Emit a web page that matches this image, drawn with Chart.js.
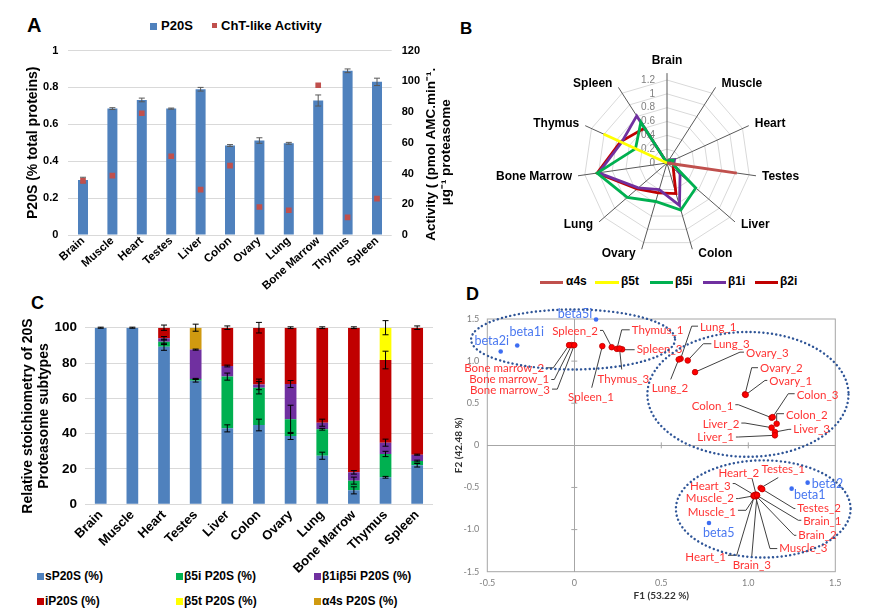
<!DOCTYPE html>
<html><head><meta charset="utf-8">
<script src="https://cdn.jsdelivr.net/npm/chart.js@4.4.1/dist/chart.umd.min.js"></script>
<style>
html,body{margin:0;padding:0;background:#fff;}
body{width:876px;height:614px;position:relative;overflow:hidden;font-family:"Liberation Sans",Arial,sans-serif;}
canvas{position:absolute;}
.t{position:absolute;white-space:nowrap;font-weight:bold;color:#000;}
.sw{position:absolute;}
</style></head><body>
<!-- panel letters -->
<div class="t" style="left:27px;top:13px;font-size:20px;line-height:24px;">A</div>
<div class="t" style="left:460px;top:19px;font-size:17px;line-height:20px;">B</div>
<div class="t" style="left:31px;top:292px;font-size:18px;line-height:22px;">C</div>
<div class="t" style="left:466px;top:283px;font-size:18px;line-height:22px;">D</div>

<!-- legend A -->
<div class="sw" style="left:150px;top:23px;width:7px;height:7px;background:#4F81BD;"></div>
<div class="t" style="left:161px;top:17.5px;font-size:13px;line-height:16px;">P20S</div>
<div class="sw" style="left:212px;top:23px;width:5px;height:5px;background:#C0504D;"></div>
<div class="t" style="left:221px;top:17.5px;font-size:13px;line-height:16px;">ChT-like Activity</div>

<!-- legend B -->
<div class="sw" style="left:540px;top:280.5px;width:23px;height:3px;background:#C0504D;"></div>
<div class="t" style="left:566px;top:274px;font-size:12px;line-height:15px;">α4s</div>
<div class="sw" style="left:595px;top:280.5px;width:24px;height:3px;background:#FFFF00;"></div>
<div class="t" style="left:621px;top:274px;font-size:12px;line-height:15px;">β5t</div>
<div class="sw" style="left:650px;top:280.5px;width:23px;height:3px;background:#00B050;"></div>
<div class="t" style="left:675px;top:274px;font-size:12px;line-height:15px;">β5i</div>
<div class="sw" style="left:703px;top:280.5px;width:23px;height:3px;background:#7030A0;"></div>
<div class="t" style="left:728px;top:274px;font-size:12px;line-height:15px;">β1i</div>
<div class="sw" style="left:755px;top:280.5px;width:23px;height:3px;background:#C00000;"></div>
<div class="t" style="left:780px;top:274px;font-size:12px;line-height:15px;">β2i</div>

<!-- legend C -->
<div class="sw" style="left:37px;top:573px;width:7px;height:7px;background:#4F81BD;"></div>
<div class="t" style="left:45px;top:569px;font-size:12px;line-height:15px;">sP20S (%)</div>
<div class="sw" style="left:176px;top:573px;width:7px;height:7px;background:#00B050;"></div>
<div class="t" style="left:184px;top:569px;font-size:12px;line-height:15px;">β5i P20S (%)</div>
<div class="sw" style="left:314px;top:573px;width:7px;height:7px;background:#7030A0;"></div>
<div class="t" style="left:322px;top:569px;font-size:12px;line-height:15px;">β1iβ5i P20S (%)</div>
<div class="sw" style="left:37px;top:598px;width:7px;height:7px;background:#C00000;"></div>
<div class="t" style="left:45px;top:594px;font-size:12px;line-height:15px;">iP20S (%)</div>
<div class="sw" style="left:176px;top:598px;width:7px;height:7px;background:#FFFF00;"></div>
<div class="t" style="left:184px;top:594px;font-size:12px;line-height:15px;">β5t P20S (%)</div>
<div class="sw" style="left:314px;top:598px;width:7px;height:7px;background:#D09A10;"></div>
<div class="t" style="left:322px;top:594px;font-size:12px;line-height:15px;">α4s P20S (%)</div>

<canvas id="cA" width="460" height="300" style="left:0;top:0;"></canvas>
<canvas id="cB" width="436" height="240" style="left:440px;top:35px;"></canvas>
<canvas id="cC" width="450" height="300" style="left:0;top:285px;"></canvas>
<canvas id="cD" width="436" height="324" style="left:440px;top:290px;"></canvas>

<script>
// ---------- DATA ----------
const tissues = ['Brain','Muscle','Heart','Testes','Liver','Colon','Ovary','Lung','Bone Marrow','Thymus','Spleen'];

// Panel A
const p20s        = [0.298,0.685,0.732,0.685,0.790,0.485,0.512,0.497,0.729,0.890,0.830];
const p20sErr     = [0.015,0.005,0.010,0.003,0.010,0.005,0.015,0.005,0.030,0.010,0.020];
const chtActivity = [35.2,38.6,79.2,51.2,29.5,45.1,18.2,16.1,97.4,11.5,23.7];
const ticksA = [0,0.2,0.4,0.6,0.8,1];

// Panel B (radar)
const radarA4s  = [0,0,0,1.02,0,0,0,0,0,0,0];
const radarB5t  = [0,0,0,0,0,0,0,0,0,1.01,0];
const radarB5i  = [0,0.05,0.10,0.08,0.55,0.71,0.58,0.76,1.02,0.50,0.70];
const radarB1i  = [0,0.05,0.12,0.10,0.25,0.64,0.40,0.55,1.00,0.72,0.81];
const radarB2i  = [0,0.05,0.10,0.10,0.12,0.46,0.45,0.57,1.02,0.74,0.60];

// Panel C (stacked %)
const sP20S    = [100,100,89.2,70,43,44.9,38.7,27.5,7.9,15.3,22.1];
const b5iP20S  = [0,0,2.8,1,29.3,21.1,9.4,15,5.5,13.2,2.4];
const b1ib5i   = [0,0,2,16.6,6,1.9,20,3.7,4.7,6.4,3.6];
const iP20S    = [0,0,6,0,21.7,32.1,31.9,53.8,81.9,46.8,71.9];
const b5tP20S  = [0,0,0,0,0,0,0,0,0,18.3,0];
const a4sP20S  = [0,0,0,12.4,0,0,0,0,0,0,0];
const errSP20S = [0.3,0.3,2,0.8,2,3.3,2,2,2,0.5,1];
const errB5i   = [0,0,1.5,0.3,2,3.5,8,0.5,2,1.5,0.5];
const errB1iB5i= [0,0,1,0.3,0.5,3,2,2,1,2,0.3];
const errIP20S = [0,0,1.5,0,1,3,0.5,0.5,0.5,5,1];
const errB5t   = [0,0,0,0,0,0,0,0,0,4,0];
const errA4s   = [0,0,0,2,0,0,0,0,0,0,0];

// Panel D (PCA biplot)
const sampleNames = ['Bone marrow_1','Bone marrow_2','Bone marrow_3','Spleen_1','Spleen_2','Thymus_1','Spleen_3','Thymus_3',
  'Lung_1','Lung_2','Lung_3','Ovary_3','Ovary_2','Ovary_1','Colon_1','Colon_3','Colon_2','Liver_2','Liver_3','Liver_1',
  'Testes_1','Testes_2','Heart_2','Heart_3','Muscle_2','Muscle_1','Brain_1','Brain_2','Muscle_3','Heart_1','Brain_3'];
const sampleF1 = [-0.015,-0.03,0.0,0.161,0.215,0.245,0.275,0.26,
  0.611,0.60,0.652,0.694,0.981,0.985,1.134,1.14,1.163,1.134,1.153,1.153,
  1.071,1.08,1.045,1.035,1.03,1.04,1.05,1.045,1.04,1.035,1.05];
const sampleF2 = [1.19,1.19,1.19,1.178,1.165,1.145,1.14,1.15,
  1.028,1.02,1.008,0.869,0.605,0.60,0.328,0.335,0.257,0.21,0.158,0.119,
  -0.506,-0.52,-0.585,-0.59,-0.60,-0.605,-0.595,-0.60,-0.595,-0.60,-0.59];
const varNames = ['beta5i','beta1i','beta2i','beta2','beta1','beta5'];
const varF1 = [0.125,-0.328,-0.423,1.341,1.249,0.774];
const varF2 = [1.494,1.186,1.115,-0.443,-0.514,-0.921];

// ---------- LAYOUT (label placement, px offsets from the point) ----------
// [leaderDx, leaderDy, textDx, textDy, align]
const sampleLabelPos = [
  [-17.4,34.4,-22.4,34.4,'right'],[-15.8,22.7,-24.8,22.7,'right'],[-17,44,-24.3,45,'right'],
  [-10.6,41.6,-11.3,51.6,'center'],[-8.7,-16.8,-13.7,-16.1,'right'],[4.8,-19.1,14.8,-19.1,'left'],
  [2.8,0.4,14.5,0.4,'left'],[2.2,21,3.8,31,'center'],
  [11.1,-32.6,19.4,-31.6,'left'],[-8,20,-8.7,29.3,'center'],[15.6,-16.7,25.6,-15.7,'left'],
  [44.9,-20,50.9,-18.4,'left'],[6.7,-26.7,15,-25.7,'left'],[19.3,-14.4,23.6,-13.7,'left'],
  [-33.3,-13,-38.3,-11.3,'right'],[15.6,-23.4,24,-21.7,'left'],[0,-10,9.3,-8.3,'left'],
  [-26.6,-4.6,-32.3,-3.3,'right'],[14,-2.7,18.3,-2.4,'left'],[-36.7,1.7,-41,2.3,'right'],
  [17.6,-10.4,22.6,-18.4,'center'],[31.8,19.4,35.1,19.4,'left'],[-4.1,-16.3,-17.4,-21.6,'center'],
  [-19.4,-11.5,-23.7,-8.8,'right'],[-15.2,2.7,-19.5,2.7,'right'],[-9.3,14,-19.3,16.3,'right'],
  [41.3,24.8,46.3,25.5,'left'],[37.9,39.4,42.2,39.4,'left'],[14.7,53.1,24,53.1,'left'],
  [-17.7,59.4,-28.4,61.7,'right'],[-5.3,61.9,-5.2,70.2,'center']
];
const varLabelPos = [[-3.8,-5.7,'right'],[9.5,-13.3,'center'],[-9,-10.3,'center'],[4.1,1.6,'left'],[2.4,6.7,'left'],[-6,10,'left']];
// group ellipses in F1/F2 units: [cx, cy, rx, ry]
const groupEllipses = [[-0.007,1.257,0.586,0.356],[0.998,0.605,0.578,0.741],[1.086,-0.755,0.502,0.577]];

Chart.defaults.font.family = '"Liberation Sans", Arial, sans-serif';
Chart.defaults.color = '#000';
Chart.defaults.plugins.legend.display = false;
Chart.defaults.plugins.tooltip.enabled = false;

// ---------- PANEL A ----------
const errA = {
  id:'errA',
  afterDatasetDraw(chart, args){
    if (args.index !== 1) return;
    const ys = chart.scales.y, ctx = chart.ctx;
    ctx.save(); ctx.strokeStyle='#595959'; ctx.lineWidth=1;
    args.meta.data.forEach((bar,i)=>{
      const x=bar.x, t=ys.getPixelForValue(p20s[i]+p20sErr[i]), b=ys.getPixelForValue(p20s[i]-p20sErr[i]);
      ctx.beginPath(); ctx.moveTo(x,t); ctx.lineTo(x,b);
      ctx.moveTo(x-3,t); ctx.lineTo(x+3,t); ctx.moveTo(x-3,b); ctx.lineTo(x+3,b); ctx.stroke();
    });
    ctx.restore();
  }
};
const rightTitleA = {
  id:'rightTitleA',
  afterDraw(chart){
    const ctx=chart.ctx, a=chart.chartArea, cy=(a.top+a.bottom)/2;
    ctx.save(); ctx.fillStyle='#000'; ctx.font='bold 13.5px "Liberation Sans", Arial, sans-serif';
    ctx.textAlign='center'; ctx.textBaseline='middle';
    ctx.translate(a.right+39.5, cy+11.5); ctx.rotate(-Math.PI/2);
    ctx.fillText('Activity ( (pmol AMC.min⁻¹.',0,0); ctx.restore();
    ctx.save(); ctx.fillStyle='#000'; ctx.font='bold 13.5px "Liberation Sans", Arial, sans-serif';
    ctx.textAlign='center'; ctx.textBaseline='middle';
    ctx.translate(a.right+54.5, cy+9.5); ctx.rotate(-Math.PI/2);
    ctx.fillText('µg⁻¹ proteasome',0,0); ctx.restore();
  }
};
new Chart(document.getElementById('cA'), {
  type:'bar',
  data:{labels:tissues, datasets:[
    {type:'line', label:'ChT-like Activity', data:chtActivity, yAxisID:'y1', showLine:false, pointStyle:'rect',
     pointRadius:4, pointBackgroundColor:'#C0504D', pointBorderWidth:0, order:1},
    {type:'bar', label:'P20S', data:p20s, yAxisID:'y', backgroundColor:'#4F81BD', barPercentage:0.34, categoryPercentage:1, order:2}
  ]},
  options:{
    responsive:false, animation:false,
    layout:{padding:{top:50.5,left:0,right:0,bottom:0}},
    scales:{
      x:{grid:{display:false,drawTicks:false}, border:{display:false},
         ticks:{autoSkip:false,maxRotation:42,minRotation:42,padding:-1,font:{size:11.5,weight:'bold'}},
         afterFit:s=>{s.height=65;}},
      y:{position:'left',min:0,max:1,afterBuildTicks:s=>{s.ticks=ticksA.map(v=>({value:v}));},
         ticks:{padding:10,font:{size:11,weight:'bold'},callback:v=>String(v)},
         grid:{color:'#d9d9d9',drawTicks:false}, border:{display:false},
         title:{display:true,text:'P20S (% total proteins)',font:{size:14,weight:'bold'},padding:{top:24.6,bottom:0}},
         afterFit:s=>{s.width=68.3;}},
      y1:{position:'right',min:0,max:120,ticks:{stepSize:20,padding:10,font:{size:11,weight:'bold'}},
          grid:{display:false,drawTicks:false}, border:{display:false}, afterFit:s=>{s.width=68.3;}}
    }
  },
  plugins:[errA,rightTitleA]
});

// ---------- PANEL B ----------
const radarDeco = {
  id:'radarDeco',
  beforeDatasetsDraw(chart){
    const r=chart.scales.r, ctx=chart.ctx, ext=r.max*1.083;
    ctx.save(); ctx.strokeStyle='#595959'; ctx.lineWidth=1;
    chart.data.labels.forEach((l,i)=>{
      const p=r.getPointPositionForValue(i,ext);
      ctx.beginPath(); ctx.moveTo(r.xCenter,r.yCenter); ctx.lineTo(p.x,p.y); ctx.stroke();
    });
    ctx.fillStyle='#7f7f7f'; ctx.font='10px "Liberation Sans", Arial, sans-serif';
    ctx.textAlign='right'; ctx.textBaseline='middle';
    r.ticks.forEach(t=>{
      const d=r.getDistanceFromCenterForValue(t.value);
      ctx.fillText(String(Math.round(t.value*10)/10), r.xCenter-12, r.yCenter-d);
    });
    ctx.restore();
  },
  afterDraw(chart){
    const r=chart.scales.r, ctx=chart.ctx, ext=r.max*1.083;
    ctx.save(); ctx.fillStyle='#000'; ctx.font='bold 12px "Liberation Sans", Arial, sans-serif';
    chart.data.labels.forEach((l,i)=>{
      const p=r.getPointPositionForValue(i,ext);
      const ang=i*2*Math.PI/chart.data.labels.length, s=Math.sin(ang), c=Math.cos(ang);
      if (Math.abs(s)<0.1){ ctx.textAlign='center'; ctx.textBaseline='bottom'; ctx.fillText(l,p.x,p.y-6); }
      else { ctx.textAlign= s>0?'left':'right'; ctx.textBaseline='middle'; ctx.fillText(l,p.x+(s>0?6:-6),p.y-c*4.5); }
    });
    ctx.restore();
  }
};
new Chart(document.getElementById('cB'), {
  type:'radar',
  data:{labels:tissues, datasets:[
    {label:'α4s', data:radarA4s, borderColor:'#C0504D'},
    {label:'β5t', data:radarB5t, borderColor:'#FFFF00'},
    {label:'β5i', data:radarB5i, borderColor:'#00B050'},
    {label:'β1i', data:radarB1i, borderColor:'#7030A0'},
    {label:'β2i', data:radarB2i, borderColor:'#C00000'}
  ]},
  options:{
    responsive:false, animation:false,
    layout:{padding:{left:144,right:126,top:45,bottom:29}},
    elements:{line:{borderWidth:2.8,tension:0,fill:false}, point:{radius:0}},
    scales:{r:{min:0,max:1.2,ticks:{display:false,stepSize:0.2},
      grid:{color:'#d9d9d9',circular:false}, angleLines:{display:false}, pointLabels:{display:false}}}
  },
  plugins:[radarDeco]
});

// ---------- PANEL C ----------
const stackC = [sP20S,b5iP20S,b1ib5i,iP20S,b5tP20S,a4sP20S];
const errC = [errSP20S,errB5i,errB1iB5i,errIP20S,errB5t,errA4s];
const errCPlugin = {
  id:'errC',
  afterDatasetsDraw(chart){
    const ys=chart.scales.y, xs=chart.scales.x, ctx=chart.ctx;
    ctx.save(); ctx.strokeStyle='#000'; ctx.lineWidth=1;
    tissues.forEach((t,i)=>{
      let cum=0; const x=xs.getPixelForValue(i);
      stackC.forEach((arr,d)=>{
        cum+=arr[i];
        if (arr[i]>0){
          const e=errC[d][i], a=ys.getPixelForValue(cum+e), b=ys.getPixelForValue(cum-e);
          ctx.beginPath(); ctx.moveTo(x,a); ctx.lineTo(x,b);
          ctx.moveTo(x-3,a); ctx.lineTo(x+3,a); ctx.moveTo(x-3,b); ctx.lineTo(x+3,b); ctx.stroke();
        }
      });
    });
    ctx.restore();
  }
};
new Chart(document.getElementById('cC'), {
  type:'bar',
  data:{labels:tissues, datasets:[
    {label:'sP20S (%)', data:sP20S, backgroundColor:'#4F81BD'},
    {label:'β5i P20S (%)', data:b5iP20S, backgroundColor:'#00B050'},
    {label:'β1iβ5i P20S (%)', data:b1ib5i, backgroundColor:'#7030A0'},
    {label:'iP20S (%)', data:iP20S, backgroundColor:'#C00000'},
    {label:'β5t P20S (%)', data:b5tP20S, backgroundColor:'#FFFF00'},
    {label:'α4s P20S (%)', data:a4sP20S, backgroundColor:'#D09A10'}
  ].map(d=>Object.assign(d,{barPercentage:0.37,categoryPercentage:1}))},
  options:{
    responsive:false, animation:false,
    layout:{padding:{top:42.7,right:17,left:0,bottom:0}},
    scales:{
      x:{stacked:true, grid:{display:false,drawTicks:false}, border:{display:false},
         ticks:{autoSkip:false,maxRotation:45,minRotation:45,padding:3,font:{size:13,weight:'bold'}},
         afterFit:s=>{s.height=80.7;}},
      y:{stacked:true,min:0,max:100,ticks:{stepSize:20,padding:8,font:{size:13.5,weight:'bold'}},
         grid:{color:'#d9d9d9',drawTicks:false}, border:{display:false},
         title:{display:true,text:['Relative stoichiometry of 20S','Proteasome subtypes'],
                font:{size:14,weight:'bold',lineHeight:1.15},padding:{top:20,bottom:0}},
         afterFit:s=>{s.width=84.9;}}
    }
  },
  plugins:[errCPlugin]
});

// ---------- PANEL D ----------
const zeroGrid = c => (c.tick && c.tick.value===0) ? '#a6a6a6' : 'rgba(0,0,0,0)';
const decoD = {
  id:'decoD',
  beforeDatasetsDraw(chart){
    const ctx=chart.ctx, a=chart.chartArea, xs=chart.scales.x, ys=chart.scales.y;
    ctx.save(); ctx.strokeStyle='#a6a6a6'; ctx.lineWidth=1;
    ctx.strokeRect(a.left,a.top,a.right-a.left,a.bottom-a.top);
    const x0=xs.getPixelForValue(0), y0=ys.getPixelForValue(0);
    ys.ticks.forEach(t=>{ if(t.value!==0 && Math.abs(t.value)<1.5){ const y=ys.getPixelForValue(t.value);
      ctx.beginPath(); ctx.moveTo(x0-3,y); ctx.lineTo(x0+3,y); ctx.stroke(); }});
    xs.ticks.forEach(t=>{ if(t.value>0 && t.value<1.5){ const x=xs.getPixelForValue(t.value);
      ctx.beginPath(); ctx.moveTo(x,y0-3); ctx.lineTo(x,y0+3); ctx.stroke(); }});
    // leader lines
    ctx.strokeStyle='#404040'; ctx.lineWidth=1;
    chart.getDatasetMeta(0).data.forEach((pt,i)=>{
      const [ldx,ldy,tdx,tdy,al]=sampleLabelPos[i];
      ctx.beginPath(); ctx.moveTo(pt.x,pt.y); ctx.lineTo(pt.x+ldx,pt.y+ldy);
      if (al==='left' && tdx-ldx>3) ctx.lineTo(pt.x+tdx-2,pt.y+ldy);
      if (al==='right' && ldx-tdx>3) ctx.lineTo(pt.x+tdx+2,pt.y+ldy);
      ctx.stroke();
    });
    ctx.restore();
  },
  afterDatasetsDraw(chart){
    const ctx=chart.ctx;
    ctx.save(); ctx.textBaseline='middle';
    ctx.font='11.5px Lato, "Open Sans", sans-serif'; ctx.fillStyle='#FF3333';
    chart.getDatasetMeta(0).data.forEach((pt,i)=>{
      const [ldx,ldy,tdx,tdy,al]=sampleLabelPos[i];
      ctx.textAlign=al; ctx.fillText(sampleNames[i],pt.x+tdx,pt.y+tdy);
    });
    ctx.font='12.5px Lato, "Open Sans", sans-serif'; ctx.fillStyle='#4A78F0';
    chart.getDatasetMeta(1).data.forEach((pt,i)=>{
      const [dx,dy,al]=varLabelPos[i];
      ctx.textAlign=al; ctx.fillText(varNames[i],pt.x+dx,pt.y+dy);
    });
    ctx.restore();
  },
  afterDraw(chart){
    const ctx=chart.ctx, xs=chart.scales.x, ys=chart.scales.y;
    ctx.save(); ctx.strokeStyle='#2F5597'; ctx.lineWidth=2.4; ctx.lineCap='round'; ctx.setLineDash([0.1,4.2]);
    groupEllipses.forEach(([cx,cy,rx,ry])=>{
      const px=xs.getPixelForValue(cx), py=ys.getPixelForValue(cy);
      const prx=Math.abs(xs.getPixelForValue(cx+rx)-px), pry=Math.abs(ys.getPixelForValue(cy+ry)-py);
      ctx.beginPath(); ctx.ellipse(px,py,prx,pry,0,0,Math.PI*2); ctx.stroke();
    });
    ctx.restore();
  }
};
new Chart(document.getElementById('cD'), {
  type:'scatter',
  data:{datasets:[
    {label:'samples', data:sampleNames.map((n,i)=>({x:sampleF1[i],y:sampleF2[i]})), pointRadius:2.8,
     backgroundColor:'#FF0000', borderColor:'#C00000', borderWidth:0.8, clip:false},
    {label:'variables', data:varNames.map((n,i)=>({x:varF1[i],y:varF2[i]})), pointRadius:2.3,
     backgroundColor:'#3D6DF2', borderWidth:0, clip:false}
  ]},
  options:{
    responsive:false, animation:false,
    layout:{padding:{top:29,right:40.7,left:0,bottom:0}},
    scales:{
      x:{type:'linear',min:-0.5,max:1.5,ticks:{stepSize:0.5,padding:6,color:'#808080',font:{family:'Lato, sans-serif',size:9}},
         grid:{color:zeroGrid,drawTicks:false}, border:{display:false},
         title:{display:true,text:'F1 (53.22 %)',color:'#333',font:{family:'Lato, sans-serif',size:10,weight:'bold'},padding:{top:0,bottom:12.3}},
         afterFit:s=>{s.height=42.3;}},
      y:{type:'linear',min:-1.5,max:1.5,ticks:{stepSize:0.5,padding:8,color:'#808080',font:{family:'Lato, sans-serif',size:9}},
         grid:{color:zeroGrid,drawTicks:false}, border:{display:false},
         title:{display:true,text:'F2 (42.48 %)',color:'#333',font:{family:'Lato, sans-serif',size:10,weight:'bold'},padding:{top:13,bottom:0}},
         afterFit:s=>{s.width=47.3;}}
    }
  },
  plugins:[decoD]
});
</script>
</body></html>
